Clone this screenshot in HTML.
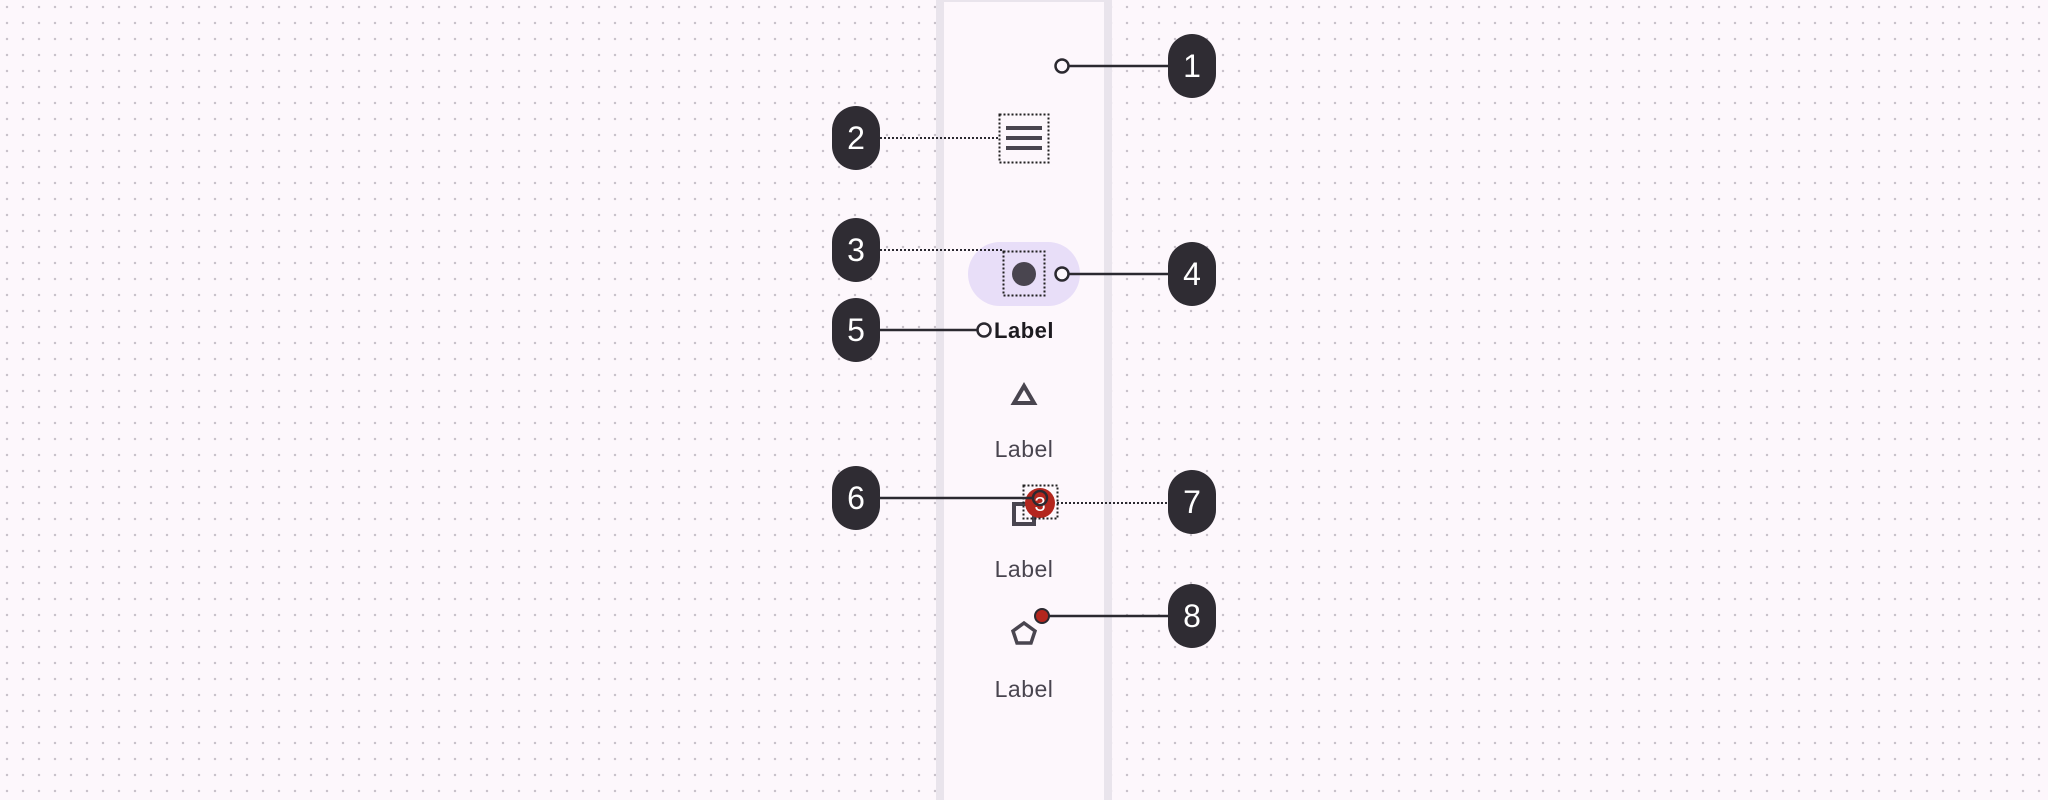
<!DOCTYPE html>
<html><head><meta charset="utf-8"><style>
html,body{margin:0;padding:0}
body{width:2048px;height:800px;overflow:hidden;background-color:#fdf7fc;
background-image:radial-gradient(circle,#c9c2cb 1.1px,transparent 1.4px);background-size:16px 16px;background-position:-1px -1px;position:relative;font-family:"Liberation Sans",sans-serif}
svg{position:absolute;left:0;top:0}
</style></head><body>
<svg width="2048" height="800" viewBox="0 0 2048 800">
<rect x="936" y="-4" width="176" height="810" fill="#e9e4ec"/>
<rect x="944" y="2" width="160" height="810" fill="#fdf7fc"/>
<rect x="999.5" y="114.5" width="49" height="48" fill="none" stroke="#222" stroke-width="2" stroke-dasharray="2,2"/>
<rect x="1006" y="126" width="36" height="4" fill="#49454f"/>
<rect x="1006" y="136" width="36" height="4" fill="#49454f"/>
<rect x="1006" y="146" width="36" height="4" fill="#49454f"/>
<rect x="968" y="242" width="112" height="64" rx="32" fill="#e8def8"/>
<circle cx="1024" cy="274" r="12" fill="#49454f"/>
<rect x="1003.5" y="251.5" width="41" height="44" fill="none" stroke="#222" stroke-width="2" stroke-dasharray="2,2"/>
<text x="1024" y="338" text-anchor="middle" font-size="22" font-weight="bold" fill="#1d1b20" letter-spacing="0.5">Label</text>
<polygon points="1024,386 1014,403 1034,403" fill="none" stroke="#49454f" stroke-width="4" stroke-linejoin="miter"/>
<text x="1024" y="457" text-anchor="middle" font-size="23" fill="#49454f" letter-spacing="0.5">Label</text>
<rect x="1014" y="504" width="20" height="20" fill="none" stroke="#49454f" stroke-width="4"/>
<circle cx="1040" cy="503" r="15" fill="#b3261e"/>
<text x="1040" y="511" text-anchor="middle" font-size="20" fill="#fff">3</text>
<rect x="1023.5" y="485.5" width="34" height="33" fill="none" stroke="#222" stroke-width="2" stroke-dasharray="2,2"/>
<text x="1024" y="577" text-anchor="middle" font-size="23" fill="#49454f" letter-spacing="0.5">Label</text>
<polygon points="1024,623 1035,631 1031,643 1017,643 1013,631" fill="none" stroke="#49454f" stroke-width="3.5"/>
<circle cx="1042" cy="616" r="7" fill="#b3261e" stroke="#2b2930" stroke-width="2"/>
<text x="1024" y="697" text-anchor="middle" font-size="23" fill="#49454f" letter-spacing="0.5">Label</text>
<g stroke="#2b2930" stroke-width="2.5" fill="none">
<line x1="1068" y1="66" x2="1168" y2="66"/>
<line x1="1068" y1="274" x2="1168" y2="274"/>
<line x1="880" y1="330" x2="978" y2="330"/>
<line x1="880" y1="498" x2="1034" y2="498"/>
<line x1="1049" y1="616" x2="1168" y2="616"/>
</g>
<g stroke="#2b2930" stroke-width="2" fill="none" stroke-dasharray="2,2">
<line x1="880" y1="138" x2="999" y2="138"/>
<line x1="880" y1="250" x2="1003" y2="250"/>
<line x1="1057" y1="503" x2="1168" y2="503"/>
</g>
<g fill="#fdf7fc" stroke="#2b2930" stroke-width="2.5">
<circle cx="1062" cy="66" r="6.5"/>
<circle cx="1062" cy="274" r="6.5"/>
<circle cx="984" cy="330" r="6.5"/>
</g>
<circle cx="1040" cy="498" r="7" fill="none" stroke="#2b2930" stroke-width="2.5"/>
<g fill="#2f2c33">
<rect x="1168" y="34" width="48" height="64" rx="24"/>
<rect x="832" y="106" width="48" height="64" rx="24"/>
<rect x="832" y="218" width="48" height="64" rx="24"/>
<rect x="1168" y="242" width="48" height="64" rx="24"/>
<rect x="832" y="298" width="48" height="64" rx="24"/>
<rect x="832" y="466" width="48" height="64" rx="24"/>
<rect x="1168" y="470" width="48" height="64" rx="24"/>
<rect x="1168" y="584" width="48" height="64" rx="24"/>
</g>
<g fill="#fff" font-size="32" text-anchor="middle" font-weight="500">
<text x="1192" y="77">1</text>
<text x="856" y="149">2</text>
<text x="856" y="261">3</text>
<text x="1192" y="285">4</text>
<text x="856" y="341">5</text>
<text x="856" y="509">6</text>
<text x="1192" y="513">7</text>
<text x="1192" y="627">8</text>
</g>
</svg>
</body></html>
